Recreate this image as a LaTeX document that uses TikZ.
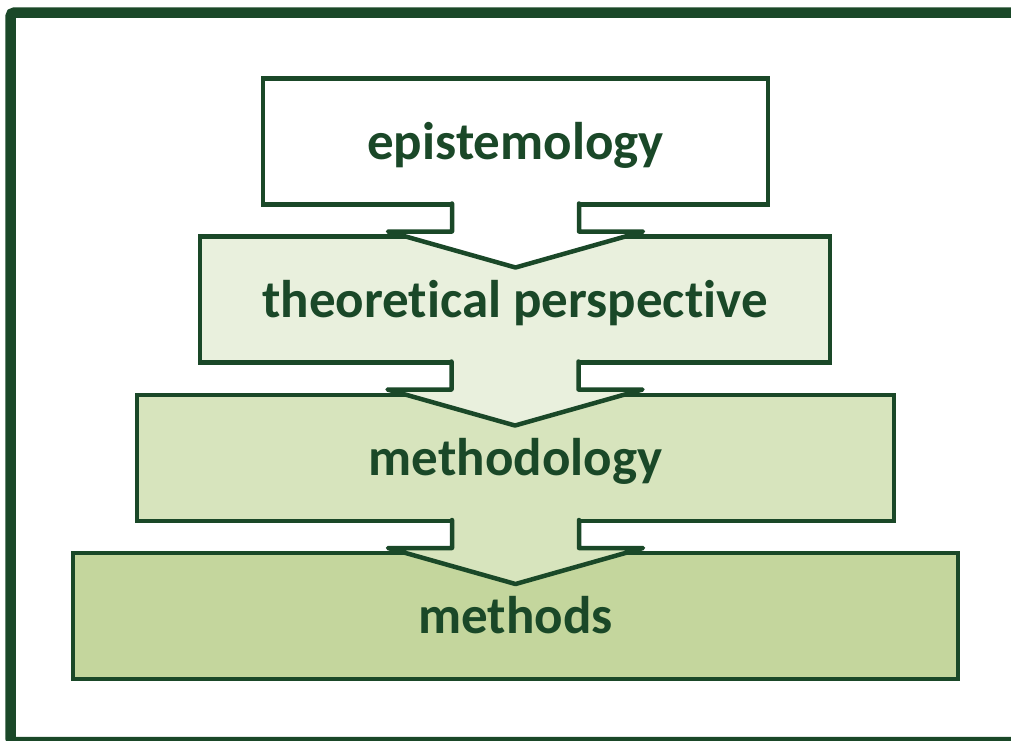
\documentclass[tikz,border=0pt]{standalone}
\usepackage{fontspec}
\setmainfont{Carlito}[Ligatures=NoCommon]
\usetikzlibrary{calc}

\definecolor{deepgreen}{RGB}{26,72,40}
\definecolor{tintA}{RGB}{233,240,221}
\definecolor{tintB}{RGB}{215,228,189}
\definecolor{tintC}{RGB}{196,214,157}

\tikzset{
  level/.style={draw=deepgreen, line width=4.5pt, line join=miter,
    minimum height=126pt, inner sep=0pt, outer sep=0pt,
    text=deepgreen, font=\fontsize{53}{60}\selectfont\bfseries,
    text height=37pt, text depth=2pt},
  flowline/.style={draw=deepgreen, line width=4.5pt, line join=round, line cap=round},
}

% block arrow from the bottom of one level into the next, filled like the upper level
\newcommand{\downarrowblock}[2]{%
  \fill[#2] ($(#1.south)+(-63.5,-3)$) -- ($(#1.south)+(-63.5,27)$)
    -- ($(#1.south)+(-127.5,27)$) -- ($(#1.south)+(0,63)$)
    -- ($(#1.south)+(127.5,27)$) -- ($(#1.south)+(63.5,27)$)
    -- ($(#1.south)+(63.5,-3)$) -- cycle;
  \draw[flowline] ($(#1.south)+(-63.5,-1)$) -- ($(#1.south)+(-63.5,27)$)
    -- ($(#1.south)+(-127.5,27)$) -- ($(#1.south)+(0,63)$)
    -- ($(#1.south)+(127.5,27)$) -- ($(#1.south)+(63.5,27)$)
    -- ($(#1.south)+(63.5,-1)$);
}

\begin{document}
\begin{tikzpicture}[x=1pt, y=-1pt]
  \useasboundingbox (0,0) rectangle (1011,740);

  % outer frame, running past the right and lower edges
  \begin{scope}
    \clip (0,0) rectangle (1011,740);
    \draw[deepgreen, line width=10.5pt, rounded corners=4pt] (10.5,12.5) rectangle (1040,742);
  \end{scope}

  % the four levels
  \node[level, fill=tintC, minimum width=885pt] (methods) at (515.5,616) {methods};
  \node[level, fill=tintB, minimum width=757pt] (methodology) at (515.5,458) {methodology};
  \node[level, fill=tintA, minimum width=630pt] (perspective) at (515,299.5) {theoretical perspective};
  \node[level, fill=white, minimum width=505pt] (epistemology) at (515.5,141.5) {epistemology};

  % arrows between the levels
  \downarrowblock{epistemology}{white}
  \downarrowblock{perspective}{tintA}
  \downarrowblock{methodology}{tintB}
\end{tikzpicture}
\end{document}
